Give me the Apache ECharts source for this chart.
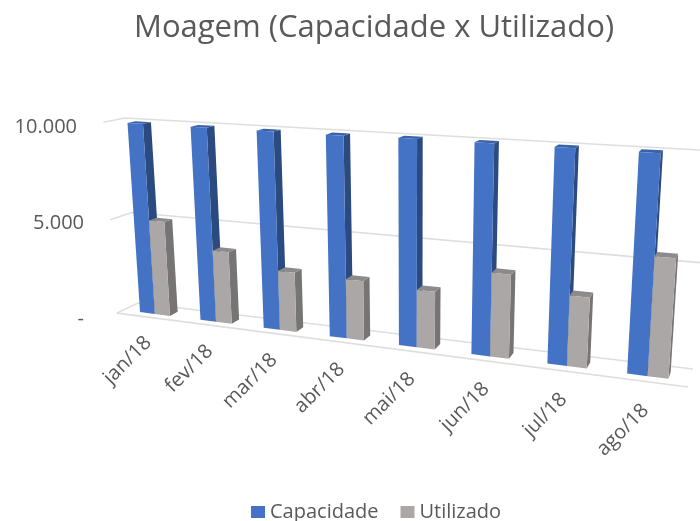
<!DOCTYPE html>
<html><head><meta charset="utf-8">
<style>html,body{margin:0;padding:0;background:#fff}#c{width:700px;height:521px}</style>
<script src="https://cdn.jsdelivr.net/npm/echarts@6/dist/echarts.min.js"></script>
</head><body><div id="c"></div>
<script>
const categories = ['jan/18','fev/18','mar/18','abr/18','mai/18','jun/18','jul/18','ago/18'];
const capacidade = [9950,9950,9950,9950,10000,10000,10000,10000];
const utilizado = [5000,3750,3050,3000,2850,4050,3350,5500];
const yTicks = [0,5000,10000];
const yTickLabels = {0:'-',5000:'5.000',10000:'10.000'};

// perspective of the Excel 3D chart: back wall quad and depth vanishing point
const Q = {tl:[125,118], tr:[708,150.4], br:[693,369], bl:[138,303]};
const VP = [800,-14];
const D_FRONT = 0.032, BAR_F = 0.022, BAR_B = 0.010, D_GROW = 0.47, X_TWEAK = 0.004;
const H = (function(){
  const [x0,y0]=Q.bl,[x1,y1]=Q.br,[x2,y2]=Q.tr,[x3,y3]=Q.tl;
  const dx1=x1-x2,dx2=x3-x2,dx3=x0-x1+x2-x3,dy1=y1-y2,dy2=y3-y2,dy3=y0-y1+y2-y3;
  const den=dx1*dy2-dx2*dy1;
  const g=(dx3*dy2-dx2*dy3)/den,h=(dx1*dy3-dx3*dy1)/den;
  return {a:x1-x0+g*x1,b:x3-x0+h*x3,c:x0,d:y1-y0+g*y1,e:y3-y0+h*y3,f:y0,g,h};
})();
function project(cs,px,py,d){
  const s=(px-cs.x)/cs.width, t=(cs.y+cs.height-py)/cs.height;
  const w=H.g*s+H.h*t+1;
  const X=(H.a*s+H.b*t+H.c)/w, Y=(H.d*s+H.e*t+H.f)/w;
  const de=d*(1+D_GROW*s);
  return [VP[0]+(X-VP[0])*(1+de), VP[1]+(Y-VP[1])*(1+de)];
}
function nudge(cs,x){return x+(cs.x+cs.width-x)*X_TWEAK;}
function barRenderer(from,to,front,side,top){
  return function(params,api){
    const cs=params.coordSys, band=api.size([1,0])[0];
    const c=api.coord([api.value(0),api.value(1)]), b=api.coord([api.value(0),0]);
    const x0=nudge(cs,c[0]+from*band), x1=nudge(cs,c[0]+to*band);
    const p=(x,y,d)=>project(cs,x,y,d);
    return {type:'group',children:[
      {type:'polygon',shape:{points:[p(x1,c[1],BAR_F),p(x1,c[1],BAR_B),p(x1,b[1],BAR_B),p(x1,b[1],BAR_F)]},style:{fill:side}},
      {type:'polygon',shape:{points:[p(x0,c[1],BAR_F),p(x0,c[1],BAR_B),p(x1,c[1],BAR_B),p(x1,c[1],BAR_F)]},style:{fill:top}},
      {type:'polygon',shape:{points:[p(x0,c[1],BAR_F),p(x1,c[1],BAR_F),p(x1,b[1],BAR_F),p(x0,b[1],BAR_F)]},style:{fill:front}}
    ]};
  };
}
function wallRenderer(params,api){
  const cs=params.coordSys, y=api.coord([0,api.value(0)])[1];
  const L=cs.x, R=cs.x+cs.width;
  const pts=[project(cs,L,y,D_FRONT),project(cs,L,y,0),project(cs,R,y,0)];
  const kids=[{type:'polyline',shape:{points:pts},style:{fill:'none',stroke:'#DEDEDE',lineWidth:1.6}}];
  if(api.value(0)===0){
    const e=project(cs,R,y,D_FRONT);
    kids.push({type:'line',shape:{x1:pts[0][0],y1:pts[0][1],x2:e[0],y2:e[1]},style:{stroke:'#DEDEDE',lineWidth:1.6}});
  }
  return {type:'group',children:kids};
}
function labelRenderer(params,api){
  const cs=params.coordSys, i=api.value(0);
  const b=api.coord([i,0]);
  const s=(b[0]-cs.x)/cs.width;
  const a=project(cs,nudge(cs,b[0]),b[1],D_FRONT);
  return {type:'text',x:a[0],y:a[1]+22+4*s,rotation:Math.PI/4,
    style:{text:categories[i],align:'right',verticalAlign:'middle',fill:'#595959',font:'20px "Open Sans"'}};
}
const chart=echarts.init(document.getElementById('c'),null,{renderer:'canvas'});
chart.setOption({
  animation:false,
  backgroundColor:'#fff',
  title:{text:'Moagem (Capacidade x Utilizado)',left:129,top:8,
    textStyle:{fontFamily:'Open Sans',fontSize:31,fontWeight:'normal',color:'#595959'}},
  legend:{data:['Capacidade','Utilizado'],left:246,top:497,icon:'rect',itemWidth:14,itemHeight:12,itemGap:22,
    textStyle:{fontFamily:'Open Sans',fontSize:20,color:'#595959'}},
  grid:{left:90,right:0,top:127,bottom:202},
  xAxis:{type:'category',data:categories,axisLine:{show:false},axisTick:{show:false},axisLabel:{show:false},splitLine:{show:false}},
  yAxis:{type:'value',min:0,max:10000,interval:5000,axisLine:{show:false},axisTick:{show:false},splitLine:{show:false},
    axisLabel:{margin:6,color:'#595959',fontFamily:'Open Sans',fontSize:20,
      formatter:v=>v===10000?'{a|'+yTickLabels[v]+'}':yTickLabels[v],
      rich:{a:{padding:[0,7,0,0],fontFamily:'Open Sans',fontSize:20,color:'#595959'}}}},
  series:[
    {type:'custom',name:'walls',silent:true,z:1,renderItem:wallRenderer,data:yTicks.map(v=>[v]),encode:{y:0}},
    {type:'custom',name:'Capacidade',z:2,itemStyle:{color:'#4472C4'},
      renderItem:barRenderer(-0.25,0,'#4472C4','#2A4A80','#3A62A8'),
      data:capacidade.map((v,i)=>[i,v]),encode:{x:0,y:1}},
    {type:'custom',name:'Utilizado',z:3,itemStyle:{color:'#ABA7A7'},
      renderItem:barRenderer(0,0.25,'#ABA7A7','#767474','#8C8A8A'),
      data:utilizado.map((v,i)=>[i,v]),encode:{x:0,y:1}},
    {type:'custom',name:'labels',silent:true,z:4,renderItem:labelRenderer,data:categories.map((c,i)=>[i]),encode:{x:0}}
  ]
});
</script></body></html>
